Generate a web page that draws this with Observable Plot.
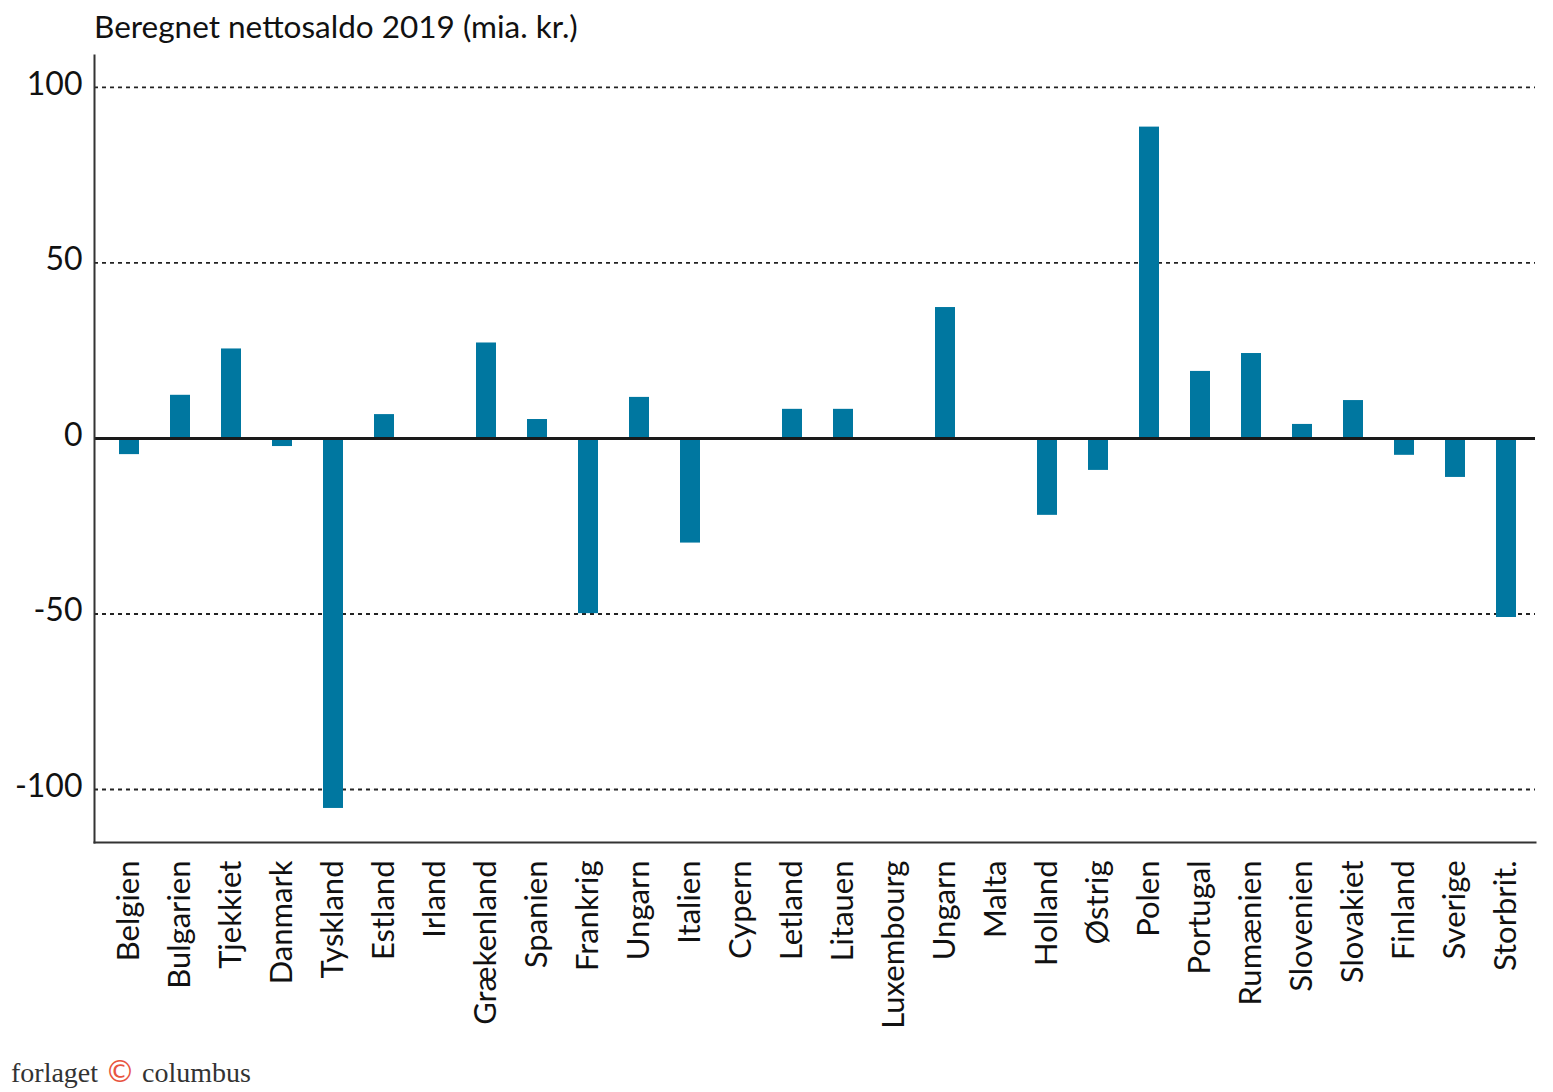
<!DOCTYPE html>
<html>
<head>
<meta charset="utf-8">
<script src="https://cdn.jsdelivr.net/npm/d3@7"></script>
<script src="https://cdn.jsdelivr.net/npm/@observablehq/plot@0.6"></script>
<style>
  html, body { margin: 0; padding: 0; background: #fff; }
  #wrap { position: relative; width: 1553px; height: 1092px; overflow: hidden; }
  #title { position: absolute; left: 94px; top: 7px; font-family: Lato, sans-serif; font-size: 31.5px; color: #111; white-space: nowrap; }
  #footer { position: absolute; left: 11px; top: 1054px; font-family: "Liberation Serif", serif; font-size: 28px; color: #333; white-space: nowrap; }
  #footer .c { color: #e8553f; font-family: "DejaVu Sans", sans-serif; font-size: 30px; }
  #chart { position: absolute; left: 0; top: 0; }
</style>
</head>
<body>
<div id="wrap">
  <div id="chart"></div>
  <div id="title">Beregnet nettosaldo 2019 (mia. kr.)</div>
  <div id="footer">forlaget <span class="c">©</span> columbus</div>
</div>
<script>
const countries = ["Belgien","Bulgarien","Tjekkiet","Danmark","Tyskland","Estland","Irland","Grækenland","Spanien","Frankrig","Ungarn","Italien","Cypern","Letland","Litauen","Luxembourg","Ungarn","Malta","Holland","Østrig","Polen","Portugal","Rumænien","Slovenien","Slovakiet","Finland","Sverige","Storbrit."];
const values = [-4.6, 12.3, 25.5, -2.3, -105.4, 6.8, 0, 27.2, 5.4, -49.9, 11.7, -29.8, 0, 8.3, 8.3, 0, 37.3, 0, -21.9, -9.1, 88.7, 19.1, 24.2, 4.0, 10.8, -4.8, -11.1, -51.0];
const yTicks = [100, 50, 0, -50, -100];
const gridTicks = [100, 50, -50, -100];

const data = countries.map((c, i) => ({i, country: c, value: values[i]}));
const idx = data.map(d => d.i);

const chart = Plot.plot({
  width: 1553,
  height: 1092,
  marginLeft: 94,
  marginRight: 18,
  marginTop: 55,
  marginBottom: 250,
  style: {fontFamily: "Lato, sans-serif", background: "transparent"},
  x: {type: "band", domain: idx, range: [100, 1536], paddingInner: 0.6, paddingOuter: 0.3},
  y: {domain: [-115.1, 109.1]},
  marks: [
    Plot.ruleY(gridTicks, {stroke: "#222", strokeWidth: 1.8, strokeDasharray: "4,4"}),
    Plot.barY(data, {x: "i", y: "value", fill: "#0077a0"}),
    Plot.ruleY([0], {stroke: "#1a1a1a", strokeWidth: 3}),
    Plot.frame({anchor: "left", stroke: "#333", strokeWidth: 2}),
    Plot.frame({anchor: "bottom", stroke: "#333", strokeWidth: 2}),
    Plot.axisY({ticks: yTicks, tickSize: 0, tickPadding: 12, fontSize: 32, dy: -3, tickFormat: d => String(d), label: null, fill: "#111"}),
    Plot.axisX({tickSize: 0, tickPadding: 18, fontSize: 31, tickRotate: -90, tickFormat: i => countries[i], label: null, fill: "#111"})
  ]
});
document.getElementById("chart").appendChild(chart);
</script>
</body>
</html>
